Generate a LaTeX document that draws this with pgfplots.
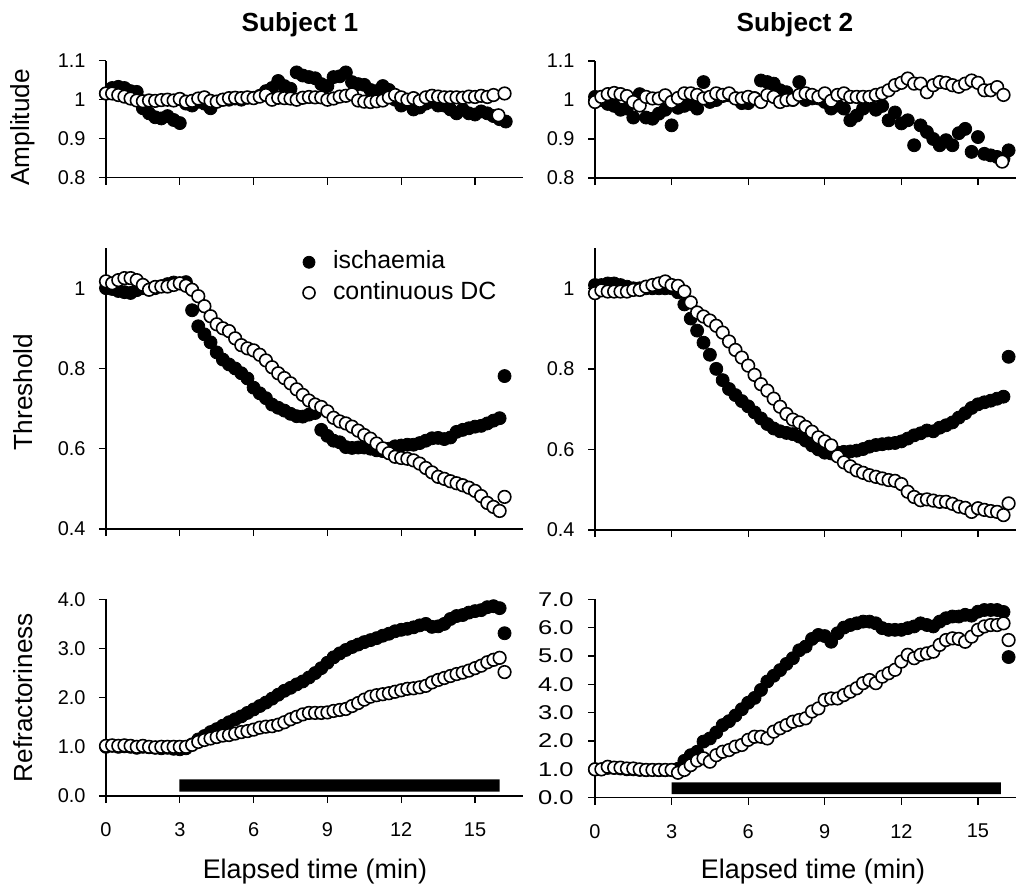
\documentclass[border=0pt]{standalone}
\usepackage{fontspec}
\setmainfont{Liberation Sans}
\usepackage{pgfplots}
\pgfplotsset{compat=1.18}
\newcommand{\lblfont}{\fontsize{26.3}{31}\selectfont}
\newcommand{\xlblfont}{\fontsize{27}{32}\selectfont}
\newcommand{\legfont}{\fontsize{25}{30}\selectfont}
\newcommand{\tckfont}{\fontsize{20}{24}\selectfont}
\pgfplotsset{
  panel/.style={
    scale only axis,
    axis x line*=bottom, axis y line*=left,
    axis line style={line width=1.3bp,-},
    every outer x axis line/.append style={-},
    every outer y axis line/.append style={-},
    tick style={line width=1.3bp, black},
    tick align=outside,
    major tick length=7bp,
    xmin=0, xtick={0,3,6,9,12,15},
    clip=false,
    ticklabel style={font=\tckfont},
    yticklabel style={xshift=-10bp},
    xticklabel style={yshift=-16bp},
    /pgf/number format/assume math mode=true,
    label style={font=\lblfont},
    xlabel style={font=\xlblfont},
  },
  filled/.style={only marks, mark=*, mark size=6.5bp,
    mark options={fill=black, draw=black, line width=0.8bp}},
  open/.style={only marks, mark=*, mark size=6.3bp,
    mark options={fill=white, draw=black, line width=1.6bp}},
}
\begin{document}
\begin{tikzpicture}
\useasboundingbox (0,0) rectangle (1016bp,-888bp);
% ---------------- Top left: Amplitude, Subject 1
\begin{axis}[panel, at={(106bp,-177.7bp)}, anchor=south west,
  width=417bp, height=117bp, xmax=16.95, ymin=0.8, ymax=1.1,
  ytick={0.8,0.9,1,1.1}, yticklabels={0.8,0.9,1,1.1}, xticklabels={},
  ylabel={Amplitude},
  ylabel style={at={(axis description cs:-0.199,0.43)}, anchor=center},
  title={Subject 1},
  title style={at={(axis description cs:0.465,1.255)}, anchor=center, font=\bfseries\lblfont}]
\addplot[filled] coordinates {(0,1.016)(0.25,1.03)(0.5,1.033)(0.75,1.03)(1,1.022)(1.25,1.02)(1.5,0.978)(1.75,0.965)(2,0.955)(2.25,0.952)(2.5,0.958)(2.75,0.948)(3,0.94)(3.25,0.99)(3.5,0.985)(3.75,0.995)(4,0.99)(4.25,0.978)(4.5,0.995)(4.75,1)(5,1)(5.25,1.003)(5.5,1)(5.75,1.005)(6,1.005)(6.25,1.01)(6.5,1.022)(6.75,1.03)(7,1.048)(7.25,1.035)(7.5,1.028)(7.75,1.07)(8,1.062)(8.25,1.058)(8.5,1.055)(8.75,1.04)(9,1.035)(9.25,1.058)(9.5,1.06)(9.75,1.07)(10,1.045)(10.25,1.04)(10.5,1.038)(10.75,1.025)(11,1.022)(11.25,1.035)(11.5,1.025)(11.75,1)(12,0.985)(12.25,0.99)(12.5,0.975)(12.75,0.98)(13,0.99)(13.25,0.995)(13.5,0.985)(13.75,0.985)(14,0.975)(14.25,0.965)(14.5,0.975)(14.75,0.965)(15,0.962)(15.25,0.97)(15.5,0.965)(15.75,0.958)(16,0.95)(16.25,0.944)};
\addplot[open] coordinates {(0,1.016)(0.25,1.016)(0.5,1.012)(0.75,1.008)(1,1.003)(1.25,0.998)(1.5,0.996)(1.75,0.998)(2,0.997)(2.25,0.999)(2.5,1)(2.75,0.998)(3,1.002)(3.25,0.995)(3.5,0.997)(3.75,1.003)(4,1.006)(4.25,0.997)(4.5,0.995)(4.75,1)(5,1.004)(5.25,1.005)(5.5,1.004)(5.75,1.006)(6,1.004)(6.25,1.008)(6.5,1.012)(6.75,1)(7,1.005)(7.25,1.004)(7.5,1.003)(7.75,1)(8,1.005)(8.25,1.007)(8.5,1.006)(8.75,1.006)(9,1)(9.25,1.003)(9.5,1.008)(9.75,1.01)(10,1.014)(10.25,0.998)(10.5,0.995)(10.75,0.994)(11,0.996)(11.25,0.998)(11.5,1.006)(11.75,1.012)(12,1.006)(12.25,1)(12.5,1.004)(12.75,0.997)(13,1.006)(13.25,1.01)(13.5,1.008)(13.75,1.006)(14,1.006)(14.25,1.006)(14.5,1.005)(14.75,1.008)(15,1.007)(15.25,1.01)(15.5,1.007)(15.75,1.012)(16.2,1.016)(15.95,0.96)};
\end{axis}
% ---------------- Top right: Amplitude, Subject 2
\begin{axis}[panel, at={(595bp,-178bp)}, anchor=south west,
  width=421bp, height=117bp, xmax=16.49, ymin=0.8, ymax=1.1,
  ytick={0.8,0.9,1,1.1}, yticklabels={0.8,0.9,1,1.1}, xticklabels={},
  title={Subject 2},
  title style={at={(axis description cs:0.475,1.257)}, anchor=center, font=\bfseries\lblfont}]
\addplot[filled] coordinates {(0,1.008)(0.25,1)(0.5,0.99)(0.75,0.985)(1,0.975)(1.25,0.978)(1.5,0.955)(1.75,1.015)(2,0.955)(2.25,0.952)(2.5,0.965)(2.75,0.975)(3,0.935)(3.25,0.98)(3.5,0.985)(3.75,0.99)(4,0.978)(4.25,1.046)(4.5,0.995)(4.75,1)(5,1.01)(5.25,1.012)(5.5,1.005)(5.75,0.992)(6,0.992)(6.25,1.005)(6.5,1.05)(6.75,1.046)(7,1.042)(7.25,1.025)(7.5,1.02)(7.75,1)(8,1.046)(8.25,1)(8.5,1.004)(8.75,1.004)(9,0.995)(9.25,0.978)(9.5,0.986)(9.75,0.978)(10,0.948)(10.25,0.96)(10.5,0.978)(10.75,0.99)(11,0.975)(11.25,0.985)(11.5,0.948)(11.75,0.968)(12,0.94)(12.25,0.948)(12.5,0.884)(12.75,0.935)(13,0.918)(13.25,0.9)(13.5,0.884)(13.75,0.897)(14,0.884)(14.25,0.915)(14.5,0.926)(14.75,0.867)(15,0.905)(15.25,0.862)(15.5,0.858)(15.75,0.854)(16,0.85)(16.2,0.871)};
\addplot[open] coordinates {(0,0.995)(0.25,1.008)(0.5,1.015)(0.75,1.018)(1,1.015)(1.25,1.01)(1.5,0.995)(1.75,0.986)(2,1.008)(2.25,1.004)(2.5,1.004)(2.75,1.012)(3,0.995)(3.25,1.005)(3.5,1.017)(3.75,1.017)(4,1.013)(4.25,1.004)(4.5,1.008)(4.75,1.017)(5,1.013)(5.25,1.017)(5.5,1.004)(5.75,1.004)(6,1.008)(6.25,1.004)(6.5,0.995)(6.75,1.013)(7,1.008)(7.25,0.995)(7.5,1)(7.75,1.001)(8,1.013)(8.25,1.017)(8.5,1.013)(8.75,1.008)(9,1.017)(9.25,0.998)(9.5,1.013)(9.75,1.017)(10,1.008)(10.25,1.008)(10.5,1.008)(10.75,1.008)(11,1.013)(11.25,1.017)(11.5,1.025)(11.75,1.038)(12,1.044)(12.25,1.055)(12.5,1.042)(12.75,1.042)(13,1.02)(13.25,1.038)(13.5,1.046)(13.75,1.044)(14,1.038)(14.25,1.034)(14.5,1.042)(14.75,1.05)(15,1.044)(15.25,1.025)(15.5,1.025)(15.75,1.033)(16,1.013)(15.95,0.842)};
\end{axis}
% ---------------- Middle left: Threshold, Subject 1
\begin{axis}[panel, at={(106bp,-529bp)}, anchor=south west,
  width=417bp, height=281bp, xmax=16.95, ymin=0.4, ymax=1.1,
  ytick={0.4,0.6,0.8,1}, yticklabels={0.4,0.6,0.8,1}, xticklabels={},
  ylabel={Threshold},
  ylabel style={at={(axis description cs:-0.199,0.488)}, anchor=center},
  legend style={draw=none, fill=none, at={(axis description cs:0.472,0.902)}, anchor=west,
    font=\legfont, inner sep=0pt, row sep=7bp, nodes={inner sep=2bp},
    /tikz/every odd column/.append style={column sep=16bp}},
  legend cell align=left,
  legend image code/.code={\draw[#1, mark size=6bp] plot coordinates {(0bp,-2bp)};}]
\addplot[filled] coordinates {(0,1)(0.25,0.998)(0.5,0.993)(0.75,0.99)(1,0.988)(1.25,0.995)(1.5,1)(1.75,0.998)(2,1)(2.25,1.005)(2.5,1.01)(2.75,1.014)(3,1.012)(3.25,1.015)(3.5,0.945)(3.75,0.905)(4,0.885)(4.25,0.865)(4.5,0.84)(4.75,0.822)(5,0.81)(5.25,0.8)(5.5,0.788)(5.75,0.775)(6,0.752)(6.25,0.738)(6.5,0.726)(6.75,0.71)(7,0.702)(7.25,0.695)(7.5,0.687)(7.75,0.681)(8,0.68)(8.25,0.685)(8.5,0.689)(8.75,0.647)(9,0.632)(9.25,0.62)(9.5,0.616)(9.75,0.604)(10,0.602)(10.25,0.603)(10.5,0.603)(10.75,0.6)(11,0.596)(11.25,0.594)(11.5,0.6)(11.75,0.606)(12,0.608)(12.25,0.61)(12.5,0.61)(12.75,0.614)(13,0.62)(13.25,0.626)(13.5,0.627)(13.75,0.624)(14,0.628)(14.25,0.642)(14.5,0.647)(14.75,0.651)(15,0.655)(15.25,0.657)(15.5,0.663)(15.75,0.67)(16,0.676)(16.2,0.781)};
\addlegendentry{ischaemia}
\addplot[open] coordinates {(0,1.017)(0.25,1.012)(0.5,1.02)(0.75,1.025)(1,1.025)(1.25,1.02)(1.5,1.008)(1.75,0.996)(2,1.003)(2.25,1.004)(2.5,1.004)(2.75,1.008)(3,1.012)(3.25,1.006)(3.5,0.996)(3.75,0.98)(4,0.955)(4.25,0.93)(4.5,0.91)(4.75,0.9)(5,0.893)(5.25,0.875)(5.5,0.858)(5.75,0.85)(6,0.845)(6.25,0.834)(6.5,0.82)(6.75,0.803)(7,0.788)(7.25,0.776)(7.5,0.763)(7.75,0.748)(8,0.734)(8.25,0.72)(8.5,0.71)(8.75,0.704)(9,0.693)(9.25,0.677)(9.5,0.668)(9.75,0.663)(10,0.655)(10.25,0.645)(10.5,0.634)(10.75,0.625)(11,0.613)(11.25,0.601)(11.5,0.589)(11.75,0.58)(12,0.577)(12.25,0.575)(12.5,0.571)(12.75,0.563)(13,0.552)(13.25,0.541)(13.5,0.53)(13.75,0.525)(14,0.519)(14.25,0.514)(14.5,0.509)(14.75,0.503)(15,0.495)(15.25,0.482)(15.5,0.465)(15.75,0.455)(16,0.445)(16.2,0.48)};
\addlegendentry{continuous DC}
\end{axis}
% ---------------- Middle right: Threshold, Subject 2
\begin{axis}[panel, at={(595bp,-530bp)}, anchor=south west,
  width=421bp, height=282bp, xmax=16.49, ymin=0.4, ymax=1.1,
  ytick={0.4,0.6,0.8,1}, yticklabels={0.4,0.6,0.8,1}, xticklabels={}]
\addplot[filled] coordinates {(0,1.008)(0.25,1.008)(0.5,1.012)(0.75,1.012)(1,1.008)(1.25,1.004)(1.5,1)(1.75,1)(2,1)(2.25,1)(2.5,1)(2.75,1)(3,1)(3.25,0.99)(3.5,0.96)(3.75,0.925)(4,0.895)(4.25,0.865)(4.5,0.835)(4.75,0.8)(5,0.772)(5.25,0.75)(5.5,0.735)(5.75,0.72)(6,0.707)(6.25,0.692)(6.5,0.677)(6.75,0.663)(7,0.652)(7.25,0.645)(7.5,0.641)(7.75,0.638)(8,0.632)(8.25,0.622)(8.5,0.61)(8.75,0.6)(9,0.592)(9.25,0.59)(9.5,0.592)(9.75,0.594)(10,0.595)(10.25,0.597)(10.5,0.601)(10.75,0.607)(11,0.611)(11.25,0.613)(11.5,0.615)(11.75,0.616)(12,0.62)(12.25,0.627)(12.5,0.635)(12.75,0.64)(13,0.647)(13.25,0.645)(13.5,0.654)(13.75,0.66)(14,0.667)(14.25,0.679)(14.5,0.69)(14.75,0.703)(15,0.712)(15.25,0.717)(15.5,0.721)(15.75,0.726)(16,0.731)(16.2,0.83)};
\addplot[open] coordinates {(0,0.988)(0.25,0.995)(0.5,0.992)(0.75,0.992)(1,0.992)(1.25,0.992)(1.5,0.996)(1.75,0.996)(2,1.004)(2.25,1.008)(2.5,1.012)(2.75,1.017)(3,1.008)(3.25,1.006)(3.5,0.992)(3.75,0.965)(4,0.94)(4.25,0.93)(4.5,0.92)(4.75,0.907)(5,0.89)(5.25,0.868)(5.5,0.847)(5.75,0.828)(6,0.808)(6.25,0.785)(6.5,0.762)(6.75,0.746)(7,0.726)(7.25,0.706)(7.5,0.688)(7.75,0.674)(8,0.667)(8.25,0.656)(8.5,0.644)(8.75,0.63)(9,0.62)(9.25,0.61)(9.5,0.583)(9.75,0.568)(10,0.558)(10.25,0.548)(10.5,0.542)(10.75,0.536)(11,0.532)(11.25,0.528)(11.5,0.524)(11.75,0.522)(12,0.514)(12.25,0.495)(12.5,0.482)(12.75,0.474)(13,0.476)(13.25,0.473)(13.5,0.47)(13.75,0.47)(14,0.465)(14.25,0.458)(14.5,0.455)(14.75,0.445)(15,0.454)(15.25,0.45)(15.5,0.447)(15.75,0.445)(16,0.437)(16.2,0.466)};
\end{axis}
% ---------------- Bottom left: Refractoriness, Subject 1
\begin{axis}[panel, at={(106bp,-796bp)}, anchor=south west,
  width=417bp, height=196.7bp, xmax=16.95, ymin=0, ymax=4,
  ytick={0,1,2,3,4}, yticklabels={0.0,1.0,2.0,3.0,4.0},
  xticklabels={0,3,6,9,12,15},
  ylabel={Refractoriness},
  ylabel style={at={(axis description cs:-0.199,0.5)}, anchor=center},
  xlabel={Elapsed time (min)},
  xlabel style={at={(axis description cs:0.501,-0.386)}, anchor=center}]
\addplot[fill=black, draw=none, forget plot] coordinates {(2.98,0.087)(16,0.087)(16,0.34)(2.98,0.34)(2.98,0.087)};
\addplot[filled] coordinates {(0,1)(0.25,1.02)(0.5,1)(0.75,1.01)(1,1)(1.25,0.98)(1.5,1)(1.75,0.99)(2,0.98)(2.25,0.97)(2.5,0.98)(2.75,0.96)(3,0.95)(3.25,0.97)(3.5,1.05)(3.75,1.15)(4,1.22)(4.25,1.3)(4.5,1.36)(4.75,1.43)(5,1.5)(5.25,1.56)(5.5,1.62)(5.75,1.69)(6,1.76)(6.25,1.83)(6.5,1.9)(6.75,1.98)(7,2.06)(7.25,2.14)(7.5,2.2)(7.75,2.27)(8,2.33)(8.25,2.41)(8.5,2.5)(8.75,2.6)(9,2.71)(9.25,2.82)(9.5,2.9)(9.75,2.97)(10,3.03)(10.25,3.08)(10.5,3.13)(10.75,3.17)(11,3.21)(11.25,3.26)(11.5,3.3)(11.75,3.35)(12,3.38)(12.25,3.4)(12.5,3.43)(12.75,3.47)(13,3.5)(13.25,3.44)(13.5,3.45)(13.75,3.5)(14,3.6)(14.25,3.66)(14.5,3.68)(14.75,3.73)(15,3.76)(15.25,3.78)(15.5,3.84)(15.75,3.86)(16,3.82)(16.2,3.31)};
\addplot[open] coordinates {(0,1.02)(0.25,1.03)(0.5,1.02)(0.75,1.03)(1,1.02)(1.25,1)(1.5,1.02)(1.75,1)(2,0.99)(2.25,1)(2.5,1)(2.75,1)(3,1)(3.25,1)(3.5,1.04)(3.75,1.1)(4,1.14)(4.25,1.17)(4.5,1.2)(4.75,1.23)(5,1.24)(5.25,1.27)(5.5,1.3)(5.75,1.32)(6,1.35)(6.25,1.39)(6.5,1.41)(6.75,1.42)(7,1.45)(7.25,1.5)(7.5,1.56)(7.75,1.61)(8,1.66)(8.25,1.69)(8.5,1.69)(8.75,1.69)(9,1.7)(9.25,1.73)(9.5,1.75)(9.75,1.77)(10,1.83)(10.25,1.89)(10.5,1.96)(10.75,2.02)(11,2.05)(11.25,2.07)(11.5,2.09)(11.75,2.12)(12,2.15)(12.25,2.18)(12.5,2.19)(12.75,2.21)(13,2.24)(13.25,2.31)(13.5,2.36)(13.75,2.4)(14,2.44)(14.25,2.48)(14.5,2.51)(14.75,2.55)(15,2.6)(15.25,2.65)(15.5,2.72)(15.75,2.77)(16,2.81)(16.2,2.52)};
\end{axis}
% ---------------- Bottom right: Refractoriness, Subject 2
\begin{axis}[panel, at={(595bp,-797.7bp)}, anchor=south west,
  width=421bp, height=198.5bp, xmax=16.49, ymin=0, ymax=7,
  ytick={0,1,2,3,4,5,6,7}, yticklabels={0.0,1.0,2.0,3.0,4.0,5.0,6.0,7.0},
  yticklabel style={xshift=0bp, xscale=1.28},
  xticklabels={0,3,6,9,12,15},
  xlabel={Elapsed time (min)},
  xlabel style={at={(axis description cs:0.518,-0.374)}, anchor=center}]
\addplot[fill=black, draw=none, forget plot] coordinates {(3,0.13)(15.9,0.13)(15.9,0.54)(3,0.54)(3,0.13)};
\addplot[filled] coordinates {(0,1)(0.25,1)(0.5,1.05)(0.75,1.05)(1,1.03)(1.25,1)(1.5,1)(1.75,0.98)(2,0.97)(2.25,0.98)(2.5,0.97)(2.75,0.97)(3,0.98)(3.25,1.02)(3.5,1.3)(3.75,1.5)(4,1.62)(4.25,1.98)(4.5,2.09)(4.75,2.3)(5,2.56)(5.25,2.7)(5.5,2.9)(5.75,3.12)(6,3.35)(6.25,3.52)(6.5,3.8)(6.75,4.1)(7,4.3)(7.25,4.5)(7.5,4.72)(7.75,4.92)(8,5.2)(8.25,5.33)(8.5,5.6)(8.75,5.74)(9,5.7)(9.25,5.5)(9.5,5.8)(9.75,6)(10,6.09)(10.25,6.15)(10.5,6.21)(10.75,6.21)(11,6.15)(11.25,5.98)(11.5,5.92)(11.75,5.92)(12,5.92)(12.25,5.98)(12.5,6.04)(12.75,6.15)(13,6.09)(13.25,6.04)(13.5,6.21)(13.75,6.33)(14,6.39)(14.25,6.39)(14.5,6.45)(14.75,6.42)(15,6.56)(15.25,6.62)(15.5,6.62)(15.75,6.62)(16,6.55)(16.2,4.96)};
\addplot[open] coordinates {(0,1)(0.25,1)(0.5,1.09)(0.75,1.06)(1,1.06)(1.25,1.03)(1.5,1.03)(1.75,1)(2,0.98)(2.25,0.98)(2.5,0.98)(2.75,0.98)(3,0.98)(3.25,0.88)(3.5,0.98)(3.75,1.15)(4,1.31)(4.25,1.39)(4.5,1.27)(4.75,1.5)(5,1.62)(5.25,1.68)(5.5,1.8)(5.75,1.86)(6,2.04)(6.25,2.15)(6.5,2.15)(6.75,2.09)(7,2.33)(7.25,2.45)(7.5,2.56)(7.75,2.68)(8,2.74)(8.25,2.8)(8.5,3.04)(8.75,3.15)(9,3.45)(9.25,3.5)(9.5,3.5)(9.75,3.62)(10,3.74)(10.25,3.86)(10.5,4.04)(10.75,4.15)(11,4.04)(11.25,4.27)(11.5,4.39)(11.75,4.51)(12,4.8)(12.25,5.04)(12.5,4.92)(12.75,5.04)(13,5.09)(13.25,5.15)(13.5,5.39)(13.75,5.56)(14,5.62)(14.25,5.6)(14.5,5.5)(14.75,5.68)(15,5.92)(15.25,6.04)(15.5,6.09)(15.75,6.09)(16,6.15)(16.2,5.56)};
\end{axis}
\end{tikzpicture}
\end{document}
